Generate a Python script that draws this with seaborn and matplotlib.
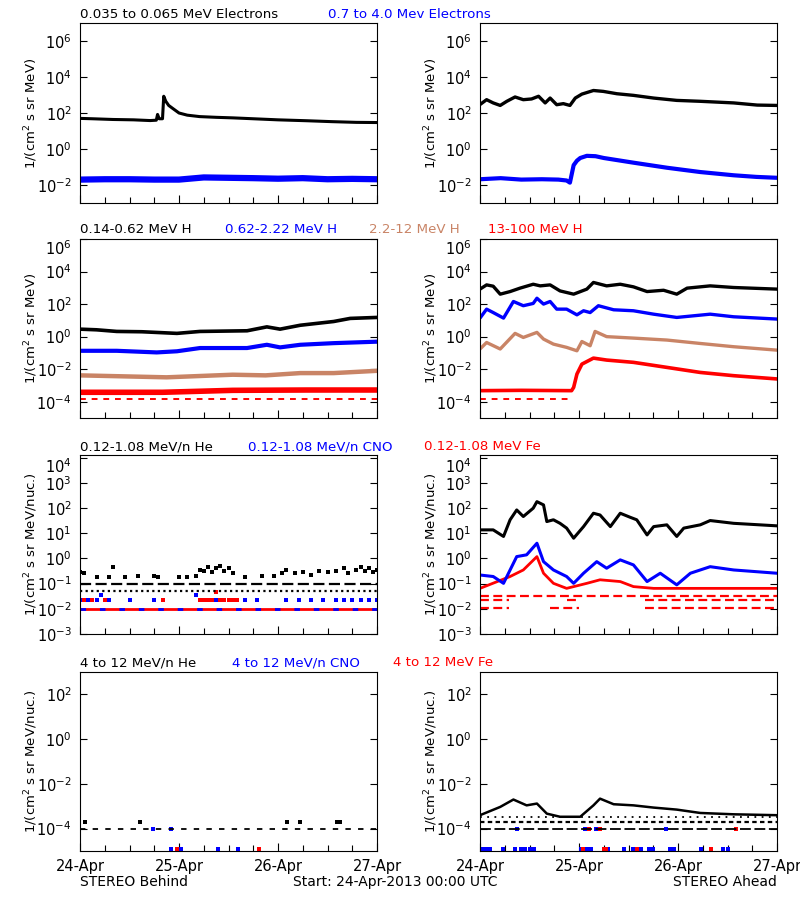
import numpy as np
import matplotlib
matplotlib.use('Agg')
import matplotlib.pyplot as plt
import seaborn as sns
from matplotlib.ticker import NullLocator, FixedLocator

sns.set_style('ticks')
plt.rcParams['font.family'] = ['DejaVu Sans']
plt.rcParams['mathtext.default'] = 'regular'
plt.rcParams['text.color'] = 'black'
plt.rcParams['axes.labelcolor'] = 'black'
plt.rcParams['xtick.color'] = 'black'
plt.rcParams['ytick.color'] = 'black'

BLUE = '#0000ff'
RED = '#ff0000'
BROWN = '#c98466'

day_hours = [0, 24, 48, 72]
day_labels = ['24-Apr', '25-Apr', '26-Apr', '27-Apr']
minor_hours = [6, 12, 18, 30, 36, 42, 54, 60, 66]

# all values are log10 of the intensity, hours counted from 24-Apr 00:00

# row 1 left: STEREO Behind electrons
b_el_lo_h = [0, 3, 8, 13, 17, 18.5, 18.8, 19.2, 20, 20.3, 20.8, 21.5, 22.5, 24, 26, 29, 33, 37, 42, 48, 55, 61, 67, 72]
b_el_lo = [1.70, 1.68, 1.64, 1.62, 1.58, 1.60, 1.92, 1.68, 1.68, 2.93, 2.65, 2.42, 2.25, 2.0, 1.88, 1.80, 1.76, 1.73, 1.68, 1.62, 1.57, 1.52, 1.48, 1.47]
b_el_hi_h = [0, 6, 12, 18, 24, 30, 36, 42, 48, 54, 60, 66, 72]
b_el_hi = [-1.70, -1.68, -1.68, -1.70, -1.70, -1.58, -1.60, -1.62, -1.65, -1.62, -1.68, -1.66, -1.68]

# row 1 right: STEREO Ahead electrons
a_el_lo_h = [0, 1.6, 3.2, 4.9, 6.5, 8.5, 10.5, 12.5, 14.2, 15.8, 17.0, 18.6, 20.2, 21.8, 23.1, 24.7, 27.5, 29.9, 33.2, 37.2, 42.1, 47.7, 53.4, 61.5, 67.2, 72]
a_el_lo = [2.47, 2.74, 2.56, 2.42, 2.65, 2.89, 2.74, 2.78, 2.93, 2.56, 2.83, 2.46, 2.52, 2.42, 2.83, 3.05, 3.25, 3.20, 3.07, 2.98, 2.83, 2.70, 2.65, 2.56, 2.44, 2.42]
a_el_hi_h = [0, 5, 10, 15, 19, 21, 21.8, 22.7, 23.5, 24.3, 25.9, 28, 30, 37.2, 45.3, 53.4, 61.5, 67, 72]
a_el_hi = [-1.68, -1.62, -1.70, -1.68, -1.70, -1.75, -1.87, -0.90, -0.65, -0.50, -0.38, -0.40, -0.50, -0.76, -1.04, -1.28, -1.46, -1.55, -1.60]

# row 2 left: STEREO Behind protons
b_h1_h = [0, 4, 8.9, 15, 23.5, 29.1, 40.5, 45.3, 48.5, 53.4, 61.5, 65.5, 72]
b_h1 = [0.46, 0.42, 0.32, 0.30, 0.20, 0.32, 0.36, 0.60, 0.46, 0.70, 0.93, 1.12, 1.18]
b_h2_h = [0, 8.9, 18.6, 23.5, 29.1, 40.5, 45.3, 48.5, 53.4, 61.5, 72]
b_h2 = [-0.87, -0.87, -0.97, -0.90, -0.70, -0.70, -0.50, -0.66, -0.50, -0.40, -0.31]
b_h3_h = [0, 21, 37, 45, 53.4, 61.5, 72]
b_h3 = [-2.38, -2.50, -2.34, -2.38, -2.24, -2.24, -2.10]
b_h4_h = [0, 20, 37, 55, 72]
b_h4 = [-3.42, -3.42, -3.30, -3.28, -3.28]
b_h4_low = -3.85

# row 2 right: STEREO Ahead protons
a_h1_h = [0, 1.6, 3.2, 4.9, 7.3, 9.7, 12.9, 14.6, 17.0, 19.4, 22.7, 25.9, 27.5, 30.7, 34.0, 37.2, 40.5, 44.5, 47.7, 50.2, 55.8, 61.5, 72]
a_h1 = [2.92, 3.18, 3.10, 2.61, 2.77, 2.98, 3.22, 3.12, 3.18, 2.81, 2.61, 2.92, 3.33, 3.12, 3.22, 3.06, 2.77, 2.85, 2.61, 2.98, 3.12, 3.02, 2.92]
a_h2_h = [0, 1.6, 3.2, 5.7, 8.1, 10.5, 12.9, 13.8, 15.4, 17.0, 18.6, 21.0, 23.5, 25.1, 26.7, 28.7, 32.4, 37.2, 42.1, 47.7, 55.8, 61.5, 72]
a_h2 = [1.14, 1.69, 1.48, 1.14, 2.16, 1.90, 2.04, 2.36, 2.00, 2.16, 1.69, 1.69, 1.34, 1.59, 1.48, 1.90, 1.65, 1.59, 1.38, 1.18, 1.38, 1.22, 1.08]
a_h3_h = [0, 1.6, 4.9, 8.5, 10.5, 13.8, 15.4, 17.8, 21.0, 23.5, 24.7, 26.7, 27.9, 30.7, 37.2, 45.3, 53.4, 61.5, 72]
a_h3 = [-0.76, -0.36, -0.76, 0.20, -0.05, 0.26, -0.15, -0.46, -0.66, -0.87, -0.30, -0.56, 0.32, 0.0, -0.09, -0.21, -0.42, -0.62, -0.83]
a_h4_h = [0, 10, 22.2, 22.7, 23.5, 24.7, 27.5, 30.7, 37.2, 45.3, 53.4, 61.5, 72]
a_h4 = [-3.32, -3.30, -3.32, -3.12, -2.30, -1.69, -1.32, -1.44, -1.58, -1.89, -2.20, -2.40, -2.60]
a_h4_low_h = [0, 22]
a_h4_low = -3.85

# row 3 left: STEREO Behind 0.12-1.08 MeV/n ions
b_he_floor = [-1.30, -1.00]
b_he_pts_h = [0, 1, 4, 7, 8, 11, 14, 18, 19, 24, 26, 28, 29, 30, 31, 32, 33, 34, 35, 36, 37, 40, 44, 47, 49, 50, 52, 54, 56, 58, 60, 62, 64, 65, 67, 68, 69, 70, 71, 72]
b_he_pts = [-0.55, -0.60, -0.75, -0.75, -0.35, -0.75, -0.70, -0.70, -0.75, -0.75, -0.75, -0.70, -0.45, -0.50, -0.35, -0.55, -0.40, -0.30, -0.50, -0.40, -0.60, -0.75, -0.70, -0.70, -0.60, -0.45, -0.60, -0.55, -0.65, -0.50, -0.55, -0.50, -0.40, -0.60, -0.45, -0.35, -0.50, -0.40, -0.55, -0.45]
b_heavy_floor = -2.0
b_cno_pts_h = [0, 2, 4, 5, 7, 12, 18, 28, 29, 30, 32, 33, 34, 36, 40, 43, 50, 53, 56, 59, 62, 64, 66, 68, 70, 72]
b_cno_pts = [-1.65, -1.65, -1.65, -1.45, -1.65, -1.65, -1.65, -1.45, -1.65, -1.65, -1.65, -1.65, -1.65, -1.65, -1.65, -1.65, -1.65, -1.65, -1.65, -1.65, -1.65, -1.65, -1.65, -1.65, -1.65, -1.65]
b_fe_pts_h = [1, 3, 6, 20, 29, 30, 31, 32, 33, 34, 35, 36, 37, 38]
b_fe_pts = [-1.65, -1.65, -1.65, -1.65, -1.65, -1.65, -1.65, -1.65, -1.32, -1.65, -1.65, -1.65, -1.65, -1.65]

# row 3 right: STEREO Ahead 0.12-1.08 MeV/n ions
a_he_h = [0, 3.2, 5.7, 7.3, 8.9, 10.5, 12.9, 13.8, 15.4, 16.2, 17.8, 19.4, 21.0, 22.7, 25.1, 27.5, 29.1, 31.6, 34.0, 36.4, 38.0, 40.5, 42.1, 45.3, 47.7, 49.4, 53.4, 55.8, 61.5, 72]
a_he = [1.13, 1.13, 0.87, 1.53, 1.92, 1.66, 1.99, 2.25, 2.12, 1.46, 1.53, 1.39, 1.20, 0.80, 1.26, 1.79, 1.72, 1.26, 1.79, 1.63, 1.53, 0.93, 1.26, 1.33, 0.87, 1.20, 1.33, 1.50, 1.39, 1.29]
a_cno_h = [0, 3.2, 5.7, 7.3, 8.9, 11.3, 13.8, 15.4, 17.8, 21.0, 22.7, 25.1, 28.3, 30.7, 34.0, 37.2, 40.5, 43.7, 47.7, 51.0, 55.8, 61.5, 72]
a_cno = [-0.66, -0.72, -0.99, -0.46, 0.07, 0.14, 0.60, -0.13, -0.46, -0.72, -0.99, -0.59, -0.13, -0.39, -0.06, -0.26, -0.92, -0.59, -1.05, -0.59, -0.33, -0.46, -0.59]
a_fe_h = [0, 7.3, 10.5, 13.8, 15.4, 17.8, 21.0, 25.9, 29.1, 34.0, 37.2, 42.1, 72]
a_fe = [-1.19, -0.72, -0.46, 0.07, -0.59, -0.99, -1.19, -0.99, -0.85, -0.92, -1.12, -1.19, -1.19]
a_fe_floor_levels = [-1.48, -1.65, -1.98]
a_fe_floor_spans = [[(0, 72)], [(0, 7), (21, 24), (40, 72)], [(0, 7), (17, 24), (40, 72)]]

# row 4 left: STEREO Behind 4-12 MeV/n ions
b4_he_floor = -4.0
b4_he_pts_h = [1.3, 14.6, 50.2, 53.4, 62.3, 63]
b4_he_pts = [-3.7, -3.7, -3.7, -3.7, -3.7, -3.7]
b4_cno_pts_h = [17.6, 22, 22, 24.5, 33.4, 38.3]
b4_cno_pts = [-4.0, -4.0, -4.92, -4.92, -4.92, -4.92]
b4_fe_pts_h = [23.6, 43.5]
b4_fe_pts = [-4.92, -4.92]

# row 4 right: STEREO Ahead 4-12 MeV/n ions
a4_he_h = [0, 4.9, 8.1, 11.3, 13.8, 16.2, 19.4, 24.3, 27.5, 29.1, 32.4, 37.2, 42.1, 47.7, 53.4, 61.5, 72]
a4_he = [-3.40, -3.03, -2.70, -2.96, -2.88, -3.33, -3.47, -3.47, -2.96, -2.66, -2.91, -2.96, -3.06, -3.15, -3.30, -3.36, -3.40]
a4_he_floor = [-3.5, -3.7, -4.0]
a4_cno_pts_h = [0.5, 1.5, 2.5, 5.5, 8.5, 10, 11, 12, 13, 24.5, 25, 26, 27, 30, 31, 35, 37, 39, 41, 42, 46, 47, 53.5, 59, 60, 9, 25.5, 28, 45]
a4_cno_pts = [-4.92] * 25 + [-4.0, -4.0, -4.0, -4.0]
a4_fe_pts_h = [25, 30, 30.5, 38, 56, 26.5, 29, 62]
a4_fe_pts = [-4.92, -4.92, -4.92, -4.92, -4.92, -4.0, -4.0, -4.0]

titles = [
    [('0.035 to 0.065 MeV Electrons', 'black'), ('0.7 to 4.0 Mev Electrons', BLUE)],
    [('0.14-0.62 MeV H', 'black'), ('0.62-2.22 MeV H', BLUE), ('2.2-12 MeV H', BROWN), ('13-100 MeV H', RED)],
    [('0.12-1.08 MeV/n He', 'black'), ('0.12-1.08 MeV/n CNO', BLUE), ('0.12-1.08 MeV Fe', RED)],
    [('4 to 12 MeV/n He', 'black'), ('4 to 12 MeV/n CNO', BLUE), ('4 to 12 MeV Fe', RED)],
]
title_x = [[80, 328], [80, 225, 369, 488], [80, 248, 424], [80, 232, 393]]
title_base = [18, 233, 450, 666]

row_top = [23, 239, 455, 672]
row_bot = [203, 418, 634, 851]
col_left = [80, 480]
col_w = 297
ylims = [(-3, 7), (-5, 6), (-3, 4.1), (-5, 3)]
yexps = [[-2, 0, 2, 4, 6], [-4, -2, 0, 2, 4, 6], [-3, -2, -1, 0, 1, 2, 3, 4], [-4, -2, 0, 2]]
ylabels = ['1/(cm$^2$ s sr MeV)', '1/(cm$^2$ s sr MeV)', '1/(cm$^2$ s sr MeV/nuc.)', '1/(cm$^2$ s sr MeV/nuc.)']

W, H = 800, 900
fig = plt.figure(figsize=(8, 9), dpi=100)


def trace(ax, hours, logs, color, lw=2.0, ls='-'):
    sns.lineplot(x=hours, y=10.0 ** np.asarray(logs, dtype=float), ax=ax, color=color,
                 linewidth=lw, linestyle=ls, estimator=None, sort=False)


def level(ax, spans, logv, color, lw=1.6, ls=(0, (2, 2))):
    for a, b in spans:
        trace(ax, [a, b], [logv, logv], color, lw=lw, ls=ls)


def dots(ax, hours, logs, color, s=6):
    sns.scatterplot(x=hours, y=10.0 ** np.asarray(logs, dtype=float), ax=ax, color=color,
                    marker='s', s=s, linewidth=0)


axes = {}
for r in range(4):
    for c in range(2):
        ax = fig.add_axes([col_left[c] / W, 1 - row_bot[r] / H, col_w / W, (row_bot[r] - row_top[r]) / H])
        ax.set_yscale('log')
        axes[(r, c)] = ax

# row 1
ax = axes[(0, 0)]
trace(ax, b_el_lo_h, b_el_lo, 'black', lw=2.2)
trace(ax, b_el_hi_h, b_el_hi, BLUE, lw=4.5)
ax = axes[(0, 1)]
trace(ax, a_el_lo_h, a_el_lo, 'black', lw=2.4)
trace(ax, a_el_hi_h, a_el_hi, BLUE, lw=3.0)

# row 2
ax = axes[(1, 0)]
trace(ax, b_h1_h, b_h1, 'black', lw=2.6)
trace(ax, b_h2_h, b_h2, BLUE, lw=3.0)
trace(ax, b_h3_h, b_h3, BROWN, lw=3.2)
trace(ax, b_h4_h, b_h4, RED, lw=4.0)
level(ax, [(b_h4_h[0], b_h4_h[-1])], b_h4_low, RED, lw=1.4, ls=(0, (3, 3)))
ax = axes[(1, 1)]
trace(ax, a_h1_h, a_h1, 'black', lw=2.4)
trace(ax, a_h2_h, a_h2, BLUE, lw=2.4)
trace(ax, a_h3_h, a_h3, BROWN, lw=2.4)
trace(ax, a_h4_h, a_h4, RED, lw=2.6)
level(ax, [tuple(a_h4_low_h)], a_h4_low, RED, lw=1.4, ls=(0, (3, 3)))

# row 3
ax = axes[(2, 0)]
level(ax, [(0, 72)], b_he_floor[0], 'black', lw=1.6, ls=(0, (1, 1.5)))
level(ax, [(0, 72)], b_he_floor[1], 'black', lw=1.6, ls=(0, (5, 2)))
dots(ax, b_he_pts_h, b_he_pts, 'black')
level(ax, [(0, 72)], b_heavy_floor, RED, lw=2.0, ls='-')
level(ax, [(0, 72)], b_heavy_floor, BLUE, lw=2.0, ls=(0, (2, 5)))
dots(ax, b_cno_pts_h, b_cno_pts, BLUE)
dots(ax, b_fe_pts_h, b_fe_pts, RED)
ax = axes[(2, 1)]
for lv, spans in zip(a_fe_floor_levels, a_fe_floor_spans):
    level(ax, spans, lv, RED, lw=1.6, ls=(0, (4, 2)))
trace(ax, a_fe_h, a_fe, RED, lw=2.0)
trace(ax, a_cno_h, a_cno, BLUE, lw=2.2)
trace(ax, a_he_h, a_he, 'black', lw=2.2)

# row 4
ax = axes[(3, 0)]
level(ax, [(0, 72)], b4_he_floor, 'black', lw=1.3, ls=(0, (3, 4)))
dots(ax, b4_he_pts_h, b4_he_pts, 'black')
dots(ax, b4_cno_pts_h, b4_cno_pts, BLUE)
dots(ax, b4_fe_pts_h, b4_fe_pts, RED)
ax = axes[(3, 1)]
level(ax, [(0, 72)], a4_he_floor[2], 'black', lw=1.3, ls=(0, (6, 2)))
level(ax, [(0, 72)], a4_he_floor[1], 'black', lw=1.6, ls=(0, (2, 1.5)))
level(ax, [(0, 72)], a4_he_floor[0], 'black', lw=1.3, ls=(0, (1, 3)))
trace(ax, a4_he_h, a4_he, 'black', lw=1.8)
dots(ax, a4_cno_pts_h, a4_cno_pts, BLUE)
dots(ax, a4_fe_pts_h, a4_fe_pts, RED)

# axes cosmetics, IDL-like frame
for (r, c), ax in axes.items():
    ax.set_xlim(day_hours[0], day_hours[-1])
    ax.set_ylim(10.0 ** ylims[r][0], 10.0 ** ylims[r][1])
    ax.yaxis.set_major_locator(FixedLocator([10.0 ** e for e in yexps[r]]))
    ax.yaxis.set_minor_locator(NullLocator())
    ax.set_yticklabels(['$10^{%d}$' % e for e in yexps[r]], fontsize=10.5)
    for e, lab in zip(yexps[r], ax.get_yticklabels()):
        # the top label sits just under the frame corner, as in the original
        lab.set_verticalalignment('top' if e >= ylims[r][1] - 0.2 else 'center_baseline')
    ax.xaxis.set_major_locator(FixedLocator(day_hours))
    ax.xaxis.set_minor_locator(FixedLocator(minor_hours))
    ax.tick_params(axis='both', which='both', direction='in', color='black', width=0.8,
                   labelcolor='black')
    ax.tick_params(axis='y', which='major', length=5, right=True, pad=6)
    ax.tick_params(axis='x', which='major', length=6, top=False, pad=6)
    ax.tick_params(axis='x', which='minor', length=4, top=False)
    if r == 3:
        ax.set_xticklabels(day_labels, fontsize=10.5)
    else:
        ax.set_xticklabels([])
    ax.set_xlabel('')
    ax.set_ylabel(ylabels[r], fontsize=9.5)
    ax.yaxis.set_label_coords(-40 / col_w, 0.5)
    for sp in ax.spines.values():
        sp.set_visible(True)
        sp.set_color('black')
        sp.set_linewidth(0.8)

# panel headers
for r in range(4):
    for (txt, col), x in zip(titles[r], title_x[r]):
        fig.text(x / W, 1 - title_base[r] / H, txt, color=col, fontsize=9.6, ha='left', va='baseline')

fig.text(80 / W, 1 - 882 / H, 'STEREO Behind', fontsize=10, ha='left', va='center')
fig.text(293 / W, 1 - 882 / H, 'Start: 24-Apr-2013 00:00 UTC', fontsize=10, ha='left', va='center')
fig.text(777 / W, 1 - 882 / H, 'STEREO Ahead', fontsize=10, ha='right', va='center')

fig.savefig('out.png', dpi=100, facecolor='white')
